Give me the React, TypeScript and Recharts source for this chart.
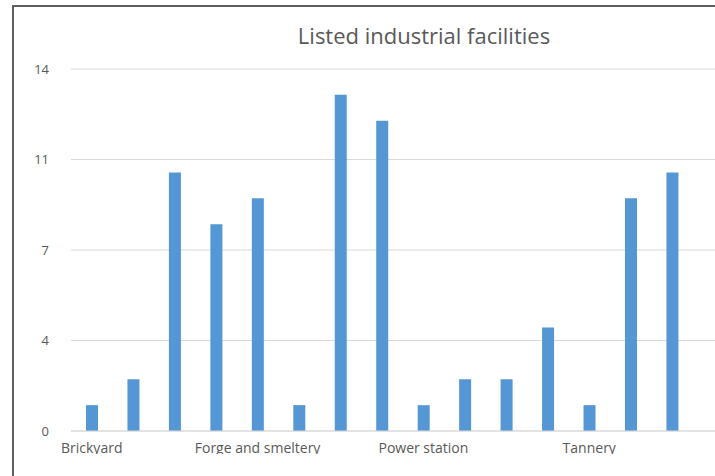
import { BarChart, Bar, XAxis, YAxis, CartesianGrid } from "recharts";

const FACILITY_TYPES = [
  "Brickyard",
  "Cement works",
  "Distillery",
  "Dye works",
  "Forge and smeltery",
  "Gasworks",
  "Glassworks",
  "Mill",
  "Power station",
  "Quarry",
  "Sawmill",
  "Shipyard",
  "Tannery",
  "Textile mill",
  "Waterworks",
];
const FACILITY_COUNTS = [1, 2, 10, 8, 9, 1, 13, 12, 1, 2, 2, 4, 1, 9, 10];
const Y_TICKS = [0, 3.5, 7, 10.5, 14];

const TEXT_GRAY = "#595959";
const GRID_GRAY = "#d9d9d9";
const BAR_BLUE = "#5597d4";
const FRAME_GRAY = "#5e5e5e";
const FONT = "'Open Sans', sans-serif";

const data = FACILITY_TYPES.map((name, i) => ({ name, value: FACILITY_COUNTS[i] }));

export default function App() {
  return (
    <div style={{ position: "fixed", left: 0, top: 0, width: 715, height: 476, overflow: "hidden", background: "#fff" }}>
      {/* frame edges: top and left only, the rest is off the page */}
      <div style={{ position: "absolute", left: 12, top: 5, width: 703, height: 2, background: FRAME_GRAY }} />
      <div style={{ position: "absolute", left: 12, top: 5, width: 2, height: 471, background: FRAME_GRAY }} />

      <div
        style={{
          position: "absolute",
          left: 0,
          top: 23.5,
          width: 848,
          textAlign: "center",
          fontFamily: FONT,
          fontSize: 22,
          lineHeight: "22px",
          color: TEXT_GRAY,
        }}
      >
        Listed industrial facilities
      </div>

      <div style={{ position: "absolute", left: 0, top: 0, width: 715, height: 476 }}>
        {/* plot runs to the page edge; the empty band past the last bar is axis padding */}
        <BarChart width={715} height={476} data={data} margin={{ top: 69, right: 0, left: 20, bottom: 15 }}>
          <CartesianGrid vertical={false} stroke={GRID_GRAY} />
          <XAxis
            dataKey="name"
            interval={3}
            padding={{ left: 0, right: 22.1 }}
            axisLine={{ stroke: GRID_GRAY }}
            tickLine={false}
            tickMargin={6}
            height={30}
            tick={{ fill: TEXT_GRAY, fontSize: 14, fontFamily: FONT }}
          />
          <YAxis
            domain={[0, 14]}
            ticks={Y_TICKS}
            tickFormatter={(v: number) => String(Math.round(v))}
            axisLine={false}
            tickLine={false}
            tickMargin={16}
            width={51}
            tick={{ fill: TEXT_GRAY, fontSize: 13, fontFamily: FONT }}
          />
          <Bar dataKey="value" fill={BAR_BLUE} barSize={12} isAnimationActive={false} />
        </BarChart>
      </div>

      {/* the lower strip is blank, cutting the category labels */}
      <div style={{ position: "absolute", left: 14, top: 453.5, width: 720, height: 30, background: "#fff" }} />
    </div>
  );
}
